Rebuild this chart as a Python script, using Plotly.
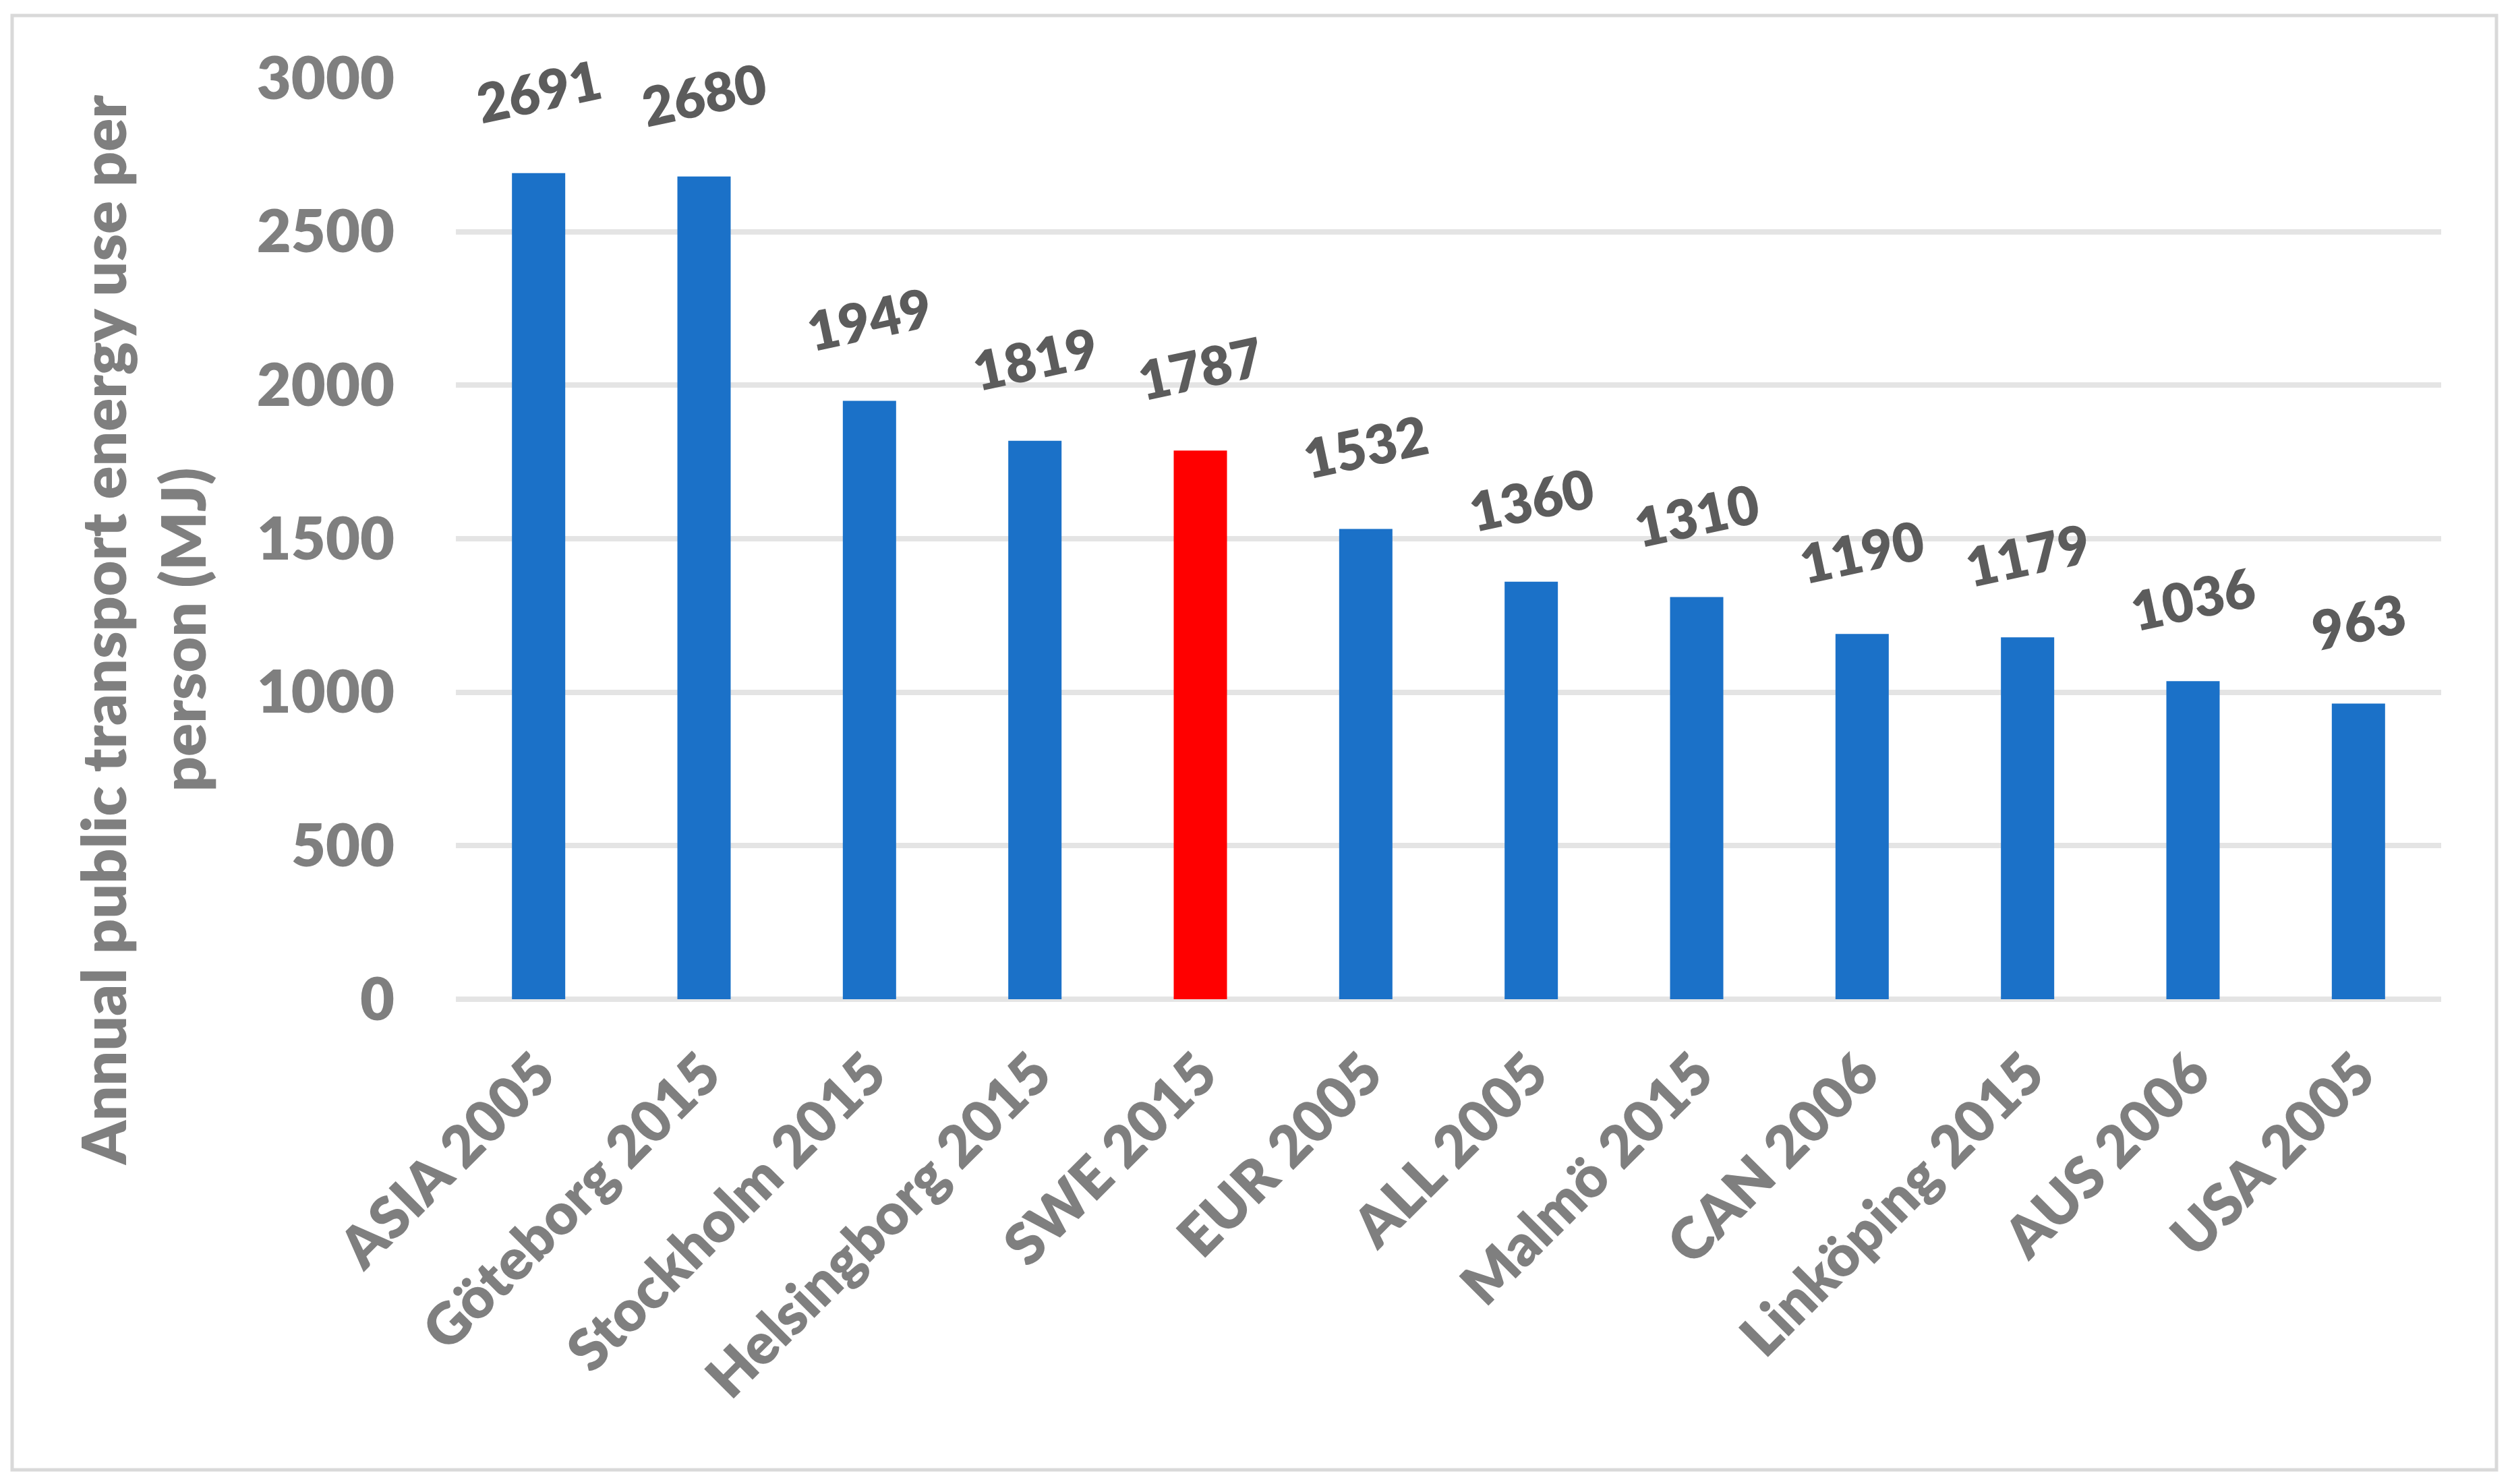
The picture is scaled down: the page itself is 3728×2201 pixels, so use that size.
import plotly.graph_objects as go

# data
places = ['ASIA 2005', 'Göteborg 2015', 'Stockholm 2015', 'Helsingborg 2015', 'SWE 2015',
          'EUR 2005', 'ALL 2005', 'Malmö 2015', 'CAN 2006', 'Linköping 2015', 'AUS 2006', 'USA 2005']
energy_mj = [2691, 2680, 1949, 1819, 1787, 1532, 1360, 1310, 1190, 1179, 1036, 963]
highlight = 'SWE 2015'
y_ticks = [0, 500, 1000, 1500, 2000, 2500, 3000]

W, H = 3728, 2201
L, R, T, B = 676, 108, 116, 719
pw, ph = W - L - R, H - T - B

blue = '#1b71c8'
red = '#ff0000'
grey_txt = '#7f7f7f'
label_txt = '#5c5c5c'
grid = '#e4e4e4'
FONT = 'Lato'
WT = 800

colors = [red if p == highlight else blue for p in places]

fig = go.Figure()
fig.add_bar(x=places, y=energy_mj, marker=dict(color=colors, line=dict(width=0)),
            width=0.322, hoverinfo='x+y')

# value labels above bars, tilted
for p, v in zip(places, energy_mj):
    fig.add_annotation(x=p, y=v, text=str(v), showarrow=False,
                       xanchor='center', yanchor='middle', yshift=123, textangle=-12,
                       font=dict(family=FONT, size=80, color=label_txt, weight=WT))

# axis title as annotation (sits lower than plot centre in the original)
fig.add_annotation(xref='paper', yref='paper',
                   x=(210 - L) / pw, y=(H - B - 935) / ph,
                   text='Annual public transport energy use per<br>person (MJ)',
                   showarrow=False, textangle=-90, align='center',
                   xanchor='center', yanchor='middle',
                   font=dict(family=FONT, size=91, color=grey_txt, weight=WT))

# outer chart border
fig.add_shape(type='rect', xref='paper', yref='paper',
              x0=(18 - L) / pw, x1=(3702 - L) / pw,
              y0=-(2180 - (H - B)) / ph, y1=(H - B - 23) / ph,
              line=dict(color='#d9d9d9', width=5), fillcolor='rgba(0,0,0,0)', layer='below')

fig.update_layout(
    width=W, height=H,
    margin=dict(l=L, r=R, t=T, b=B, pad=0),
    plot_bgcolor='white', paper_bgcolor='white',
    showlegend=False, bargap=0.678,
)
fig.update_xaxes(tickangle=-45, showgrid=False, showline=False, zeroline=False,
                 ticks='', ticklabelstandoff=42,
                 tickfont=dict(family=FONT, size=85, color=grey_txt, weight=WT))
fig.update_yaxes(range=[0, 3000], tickvals=y_ticks, showgrid=True, gridcolor=grid,
                 gridwidth=7.5, zeroline=True, zerolinecolor=grid, zerolinewidth=7.5,
                 showline=False, ticks='', ticklabelstandoff=90,
                 tickfont=dict(family=FONT, size=88, color=grey_txt, weight=WT))

fig.write_html("out.html", config={'displayModeBar': False},
               post_script="document.body.style.margin='0';")
